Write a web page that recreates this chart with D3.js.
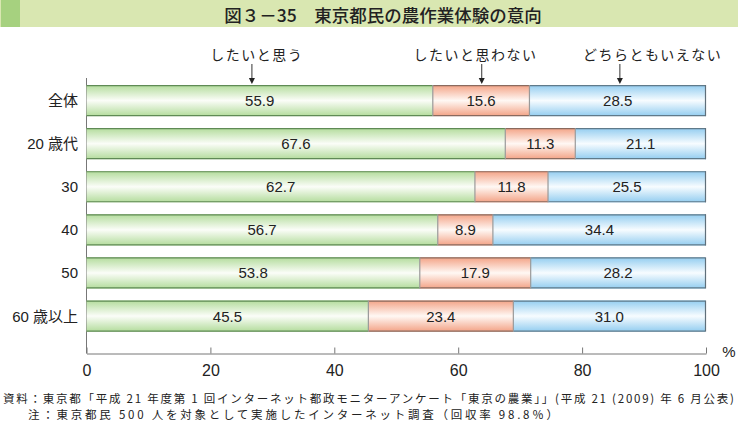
<!DOCTYPE html>
<html><head><meta charset="utf-8">
<script src="https://cdn.jsdelivr.net/npm/d3@7"></script>
<style>
html,body{margin:0;padding:0;background:#fff;}
svg{display:block;}
text{font-family:"Liberation Sans","Noto Sans CJK JP",sans-serif;}
.jp{font-family:"Noto Sans CJK JP","Liberation Sans",sans-serif;}
</style></head>
<body>
<svg id="chart" width="738" height="421"></svg>
<script>
const title = "図３－35　東京都民の農作業体験の意向";
const categories = ["全体", "20 歳代", "30", "40", "50", "60 歳以上"];
const seriesNames = ["したいと思う", "したいと思わない", "どちらともいえない"];
const wantTo = [55.9, 67.6, 62.7, 56.7, 53.8, 45.5];
const notWant = [15.6, 11.3, 11.8, 8.9, 17.9, 23.4];
const neither = [28.5, 21.1, 25.5, 34.4, 28.2, 31.0];
const legendArrowAt = [26.7, 63.8, 86.1];
const legendTextAt = [27.5, 62.8, 91.4];
const xTicks = [0, 20, 40, 60, 80, 100];
const notes = [
  "資料：東京都「平成 21 年度第 1 回インターネット都政モニターアンケート「東京の農業」」(平成 21 (2009) 年 6 月公表)",
  "注：東京都民 500 人を対象として実施したインターネット調査（回収率 98.8％）"
];

const svg = d3.select("#chart");
const defs = svg.append("defs");
const palettes = [
  {edge:"#b3dc9c", mid:"#fbfdf8", stroke:"#5f8a55"},
  {edge:"#f3a386", mid:"#fff8f4", stroke:"#8a6a5e"},
  {edge:"#93cdf0", mid:"#f7fcff", stroke:"#5f7a8a"}
];
palettes.forEach((p,i)=>{
  const g = defs.append("linearGradient").attr("id","grad"+i)
    .attr("x1",0).attr("y1",0).attr("x2",0).attr("y2",1);
  g.append("stop").attr("offset","0%").attr("stop-color",p.edge);
  g.append("stop").attr("offset","50%").attr("stop-color",p.mid);
  g.append("stop").attr("offset","100%").attr("stop-color",p.edge);
});

// title bar
svg.append("rect").attr("x",0).attr("y",0).attr("width",738).attr("height",27).attr("fill","#d9e7b1");
svg.append("rect").attr("x",1).attr("y",0).attr("width",19).attr("height",27).attr("fill","#a6d17f");
svg.append("text").attr("class","jp").attr("x",383).attr("y",14).attr("text-anchor","middle")
  .attr("dominant-baseline","central").attr("font-size",17.5).attr("font-weight",500).attr("fill","#222").text(title);

const x = d3.scaleLinear().domain([0,100]).range([86.5,706]);
const y = d3.scaleBand().domain(categories).range([79,337.6]).paddingInner(0.28).paddingOuter(0.14);

const data = categories.map((c,i)=>({cat:c, vals:[wantTo[i], notWant[i], neither[i]]}));

// axes lines
const axisY = 353.5;
svg.append("line").attr("x1",x(0)).attr("x2",x(0)).attr("y1",78).attr("y2",axisY).attr("stroke","#777").attr("stroke-width",1);
const xAxis = d3.axisBottom(x).tickValues(xTicks).tickSizeInner(-6).tickSizeOuter(0).tickPadding(10);
const ax = svg.append("g").attr("transform",`translate(0,${axisY})`).call(xAxis);
ax.select(".domain").attr("stroke","#777");
ax.selectAll(".tick line").attr("stroke","#777");
ax.selectAll(".tick text").attr("font-size",16).attr("fill","#222")
  .attr("font-family","Liberation Sans, sans-serif").attr("dy","0.4em").attr("y",16);
svg.append("text").attr("x",729).attr("y",351).attr("text-anchor","middle").attr("dominant-baseline","central")
  .attr("font-size",15).attr("fill","#222").text("%");

// bars
data.forEach(d=>{
  let cum = 0;
  const g = svg.append("g");
  d.vals.forEach((v,k)=>{
    const x0 = x(cum), x1 = x(cum+v);
    g.append("rect").attr("x",x0).attr("y",y(d.cat)).attr("width",x1-x0).attr("height",y.bandwidth())
      .attr("fill",`url(#grad${k})`).attr("stroke","none");
    g.append("text").attr("x",(x0+x1)/2).attr("y",y(d.cat)+y.bandwidth()/2)
      .attr("text-anchor","middle").attr("dominant-baseline","central").attr("font-size",15).attr("fill","#222")
      .text(v.toFixed(1));
    cum += v;
  });
  cum = 0;
  d.vals.forEach((v,k)=>{
    const x0 = x(cum), x1 = x(cum+v);
    const top = y(d.cat), bot = y(d.cat)+y.bandwidth();
    const st = palettes[k].stroke;
    g.append("line").attr("x1",x0).attr("x2",x1).attr("y1",top+0.5).attr("y2",top+0.5).attr("stroke",st).attr("stroke-width",1.2);
    g.append("line").attr("x1",x0).attr("x2",x1).attr("y1",bot-0.5).attr("y2",bot-0.5).attr("stroke",st).attr("stroke-width",1.2);
    if(k>0) g.append("line").attr("x1",x0).attr("x2",x0).attr("y1",top).attr("y2",bot).attr("stroke","#999").attr("stroke-width",1.2);
    cum += v;
  });
  g.append("line").attr("x1",x(100)-0.5).attr("x2",x(100)-0.5).attr("y1",y(d.cat)).attr("y2",y(d.cat)+y.bandwidth()).attr("stroke","#5f6f7a").attr("stroke-width",1.2);
  svg.append("text").attr("x",78).attr("y",y(d.cat)+y.bandwidth()/2).attr("text-anchor","end")
    .attr("dominant-baseline","central").attr("font-size",15).attr("fill","#222").text(d.cat);
});

// legend labels with arrows
seriesNames.forEach((s,i)=>{
  svg.append("text").attr("class","jp").attr("x",x(legendTextAt[i])).attr("y",54).attr("text-anchor","middle")
    .attr("dominant-baseline","central").attr("font-size",14).attr("letter-spacing",1.5).attr("fill","#222").text(s);
  const ax0 = x(legendArrowAt[i]);
  svg.append("line").attr("x1",ax0).attr("x2",ax0).attr("y1",64).attr("y2",80).attr("stroke","#333").attr("stroke-width",1);
  svg.append("path").attr("d",`M${ax0-3},78 L${ax0+3},78 L${ax0},84 Z`).attr("fill","#222");
});

// notes
const noteX = [3, 28];
const noteLen = [731, 530];
notes.forEach((n,i)=>{
  svg.append("text").attr("class","jp").attr("x",noteX[i]).attr("y",398+i*16).attr("dominant-baseline","central")
    .attr("font-size",11.5).attr("fill","#222")
    .attr("textLength",noteLen[i]).attr("lengthAdjust","spacing").text(n);
});
</script>
</body></html>
